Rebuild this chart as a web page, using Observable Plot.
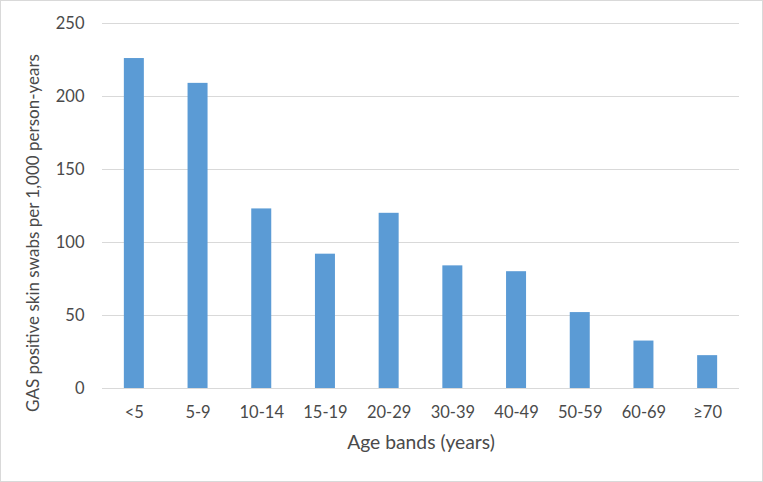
<!DOCTYPE html>
<html>
<head>
<meta charset="utf-8">
<script src="https://cdn.jsdelivr.net/npm/d3@7"></script>
<script src="https://cdn.jsdelivr.net/npm/@observablehq/plot@0.6"></script>
<style>
  html, body { margin: 0; padding: 0; background: #fff; }
  svg { display: block; }
</style>
</head>
<body>
<div id="chart"></div>
<script>
const ageBands = ["<5", "5-9", "10-14", "15-19", "20-29", "30-39", "40-49", "50-59", "60-69", "≥70"];
const rates = [226, 209, 123, 92, 120, 84, 80, 52, 32.5, 22.5];
const yTicks = [0, 50, 100, 150, 200, 250];
const xTitle = "Age bands (years)";
const yTitle = "GAS positive skin swabs per 1,000 person-years";

const data = ageBands.map((band, i) => ({band, rate: rates[i]}));

const chart = Plot.plot({
  width: 763,
  height: 482,
  marginLeft: 102,
  marginRight: 24,
  marginTop: 23,
  marginBottom: 94,
  style: {fontFamily: "Lato, 'Open Sans', sans-serif", fontSize: "16.5px", color: "#4a4a4a", background: "#fff", outline: "1.5px solid #d9d9d9", outlineOffset: "-1.5px"},
  x: {domain: ageBands, paddingInner: 0.686, paddingOuter: 0.343, round: false, label: null},
  y: {domain: [0, 250], label: null},
  marks: [
    Plot.gridY(yTicks, {stroke: "#d9d9d9", strokeOpacity: 1, strokeWidth: 1}),
    Plot.barY(data, {x: "band", y: "rate", fill: "#5b9bd5"}),
    Plot.ruleY([0], {stroke: "#d9d9d9", strokeWidth: 1.2}),
    Plot.axisX({tickSize: 0, tickPadding: 18, label: null, fontSize: 16.5}),
    Plot.axisY(yTicks, {tickSize: 0, tickPadding: 18, label: null, fontSize: 16.5}),
    Plot.text([xTitle], {frameAnchor: "bottom", dy: 60, text: d => d, fontSize: 19.3, fill: "#4a4a4a"}),
    Plot.text([yTitle], {frameAnchor: "left", textAnchor: "middle", dx: -69, dy: 27, rotate: -90, text: d => d, fontSize: 17, fill: "#4a4a4a"})
  ]
});
document.getElementById("chart").appendChild(chart);
</script>
</body>
</html>
